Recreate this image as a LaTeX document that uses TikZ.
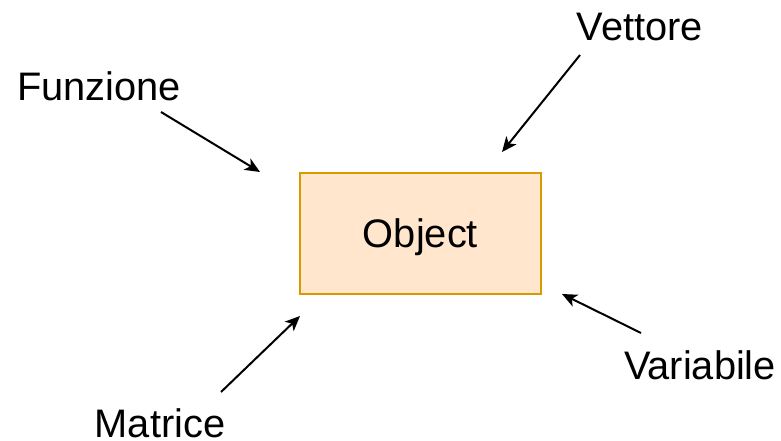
\documentclass[tikz,border=0pt]{standalone}
\usepackage{fontspec}
\setmainfont{Liberation Sans}
\usetikzlibrary{arrows.meta}
\definecolor{boxfill}{HTML}{FFE6CC}
\definecolor{boxdraw}{HTML}{D79B00}
\begin{document}
\begin{tikzpicture}[x=1pt,y=-1pt,
  lbl/.style={font=\fontsize{39.8}{46}\selectfont, inner sep=0pt},
  conn/.style={line width=2pt, -{Stealth[length=15pt,width=13pt,inset=4pt]}}]
\useasboundingbox (0,0) rectangle (781,441);
\node[draw=boxdraw, fill=boxfill, line width=1.6pt, minimum width=241pt, minimum height=121pt, inner sep=0pt, text height=28pt, text depth=0pt, lbl] (obj) at (420.5,233.5) {Object};
\node[lbl, anchor=base] (fun) at (99,101) {Funzione};
\node[lbl, anchor=base] (vet) at (640,41) {Vettore};
\node[lbl, anchor=base] (var) at (700,379) {Variabile};
\node[lbl, anchor=base] (mat) at (160,437) {Matrice};
\coordinate (f1) at (161,112);
\coordinate (f2) at (260,172);
\coordinate (v1) at (580,55);
\coordinate (v2) at (502,152);
\coordinate (r1) at (641,333);
\coordinate (r2) at (562,294);
\coordinate (m1) at (221,392);
\coordinate (m2) at (300,316);
\draw[conn] (f1) -- (f2);
\draw[conn] (v1) -- (v2);
\draw[conn] (r1) -- (r2);
\draw[conn] (m1) -- (m2);
\end{tikzpicture}
\end{document}
